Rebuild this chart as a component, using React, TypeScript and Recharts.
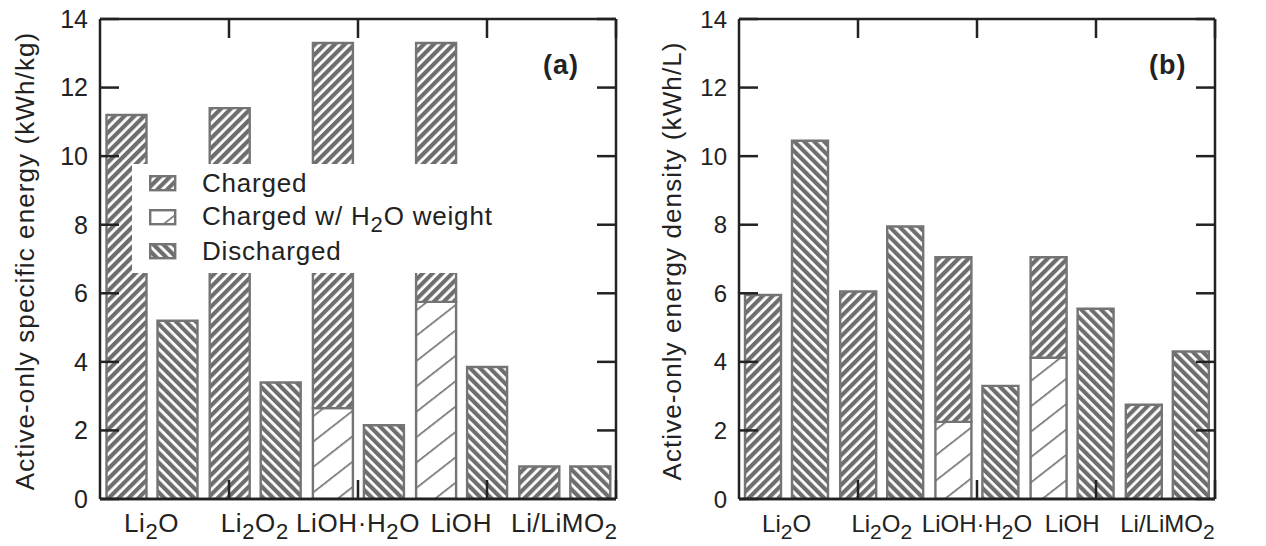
import React from "react";
import { BarChart, Bar, XAxis, YAxis, Legend } from "recharts";

// x categories; "_2" marks a subscript digit
const categories = ["Li_2O", "Li_2O_2", "LiOH·H_2O", "LiOH", "Li/LiMO_2"];

// (a) active-only specific energy, kWh/kg
const chargedA = [11.2, 11.4, 13.3, 13.3, 0.95];
const waterA = [0, 0, 2.65, 5.75, 0];
const dischargedA = [5.2, 3.4, 2.15, 3.85, 0.95];

// (b) active-only energy density, kWh/L
const chargedB = [5.95, 6.05, 7.05, 7.05, 2.75];
const waterB = [0, 0, 2.25, 4.12, 0];
const dischargedB = [10.45, 7.95, 3.3, 5.55, 4.3];

const yTicks = [0, 2, 4, 6, 8, 10, 12, 14];
const boundaryTicks = [1, 2, 3, 4];
const legendItems = [
  { key: "charged", label: "Charged" },
  { key: "water", label: "Charged w/ H_2O weight" },
  { key: "discharged", label: "Discharged" },
];

const FONT = '"Liberation Sans", Arial, Helvetica, sans-serif';
const INK = "#222";
const GRAY = "#6e6e6e";
const EDGE = "#747474";

const buildRows = (charged: number[], water: number[], discharged: number[]) =>
  categories.map((name, i) => ({
    name,
    water: water[i],
    chargedRest: charged[i] - water[i],
    discharged: discharged[i],
  }));

const rowsA = buildRows(chargedA, waterA, dischargedA);
const rowsB = buildRows(chargedB, waterB, dischargedB);

function Patterns({ p }: { p: string }) {
  return (
    <defs>
      <pattern id={`${p}-charged`} patternUnits="userSpaceOnUse" width="7" height="7" patternTransform="rotate(45)">
        <rect width="7" height="7" fill="#fff" />
        <rect width="4.2" height="7" fill={GRAY} />
      </pattern>
      <pattern id={`${p}-discharged`} patternUnits="userSpaceOnUse" width="7" height="7" patternTransform="rotate(-45)">
        <rect width="7" height="7" fill="#fff" />
        <rect width="4.2" height="7" fill={GRAY} />
      </pattern>
      <pattern id={`${p}-water`} patternUnits="userSpaceOnUse" width="20" height="20" patternTransform="rotate(52)">
        <rect width="20" height="20" fill="#fff" />
        <rect width="1.6" height="20" fill={GRAY} />
      </pattern>
    </defs>
  );
}

// svg tspans with subscript digits
function SvgRich({ label, sub, drop }: { label: string; sub: number; drop: number }) {
  const segs = label.split(/_(\d)/);
  let down = false;
  return (
    <>
      {segs.map((t, i) => {
        const isSub = i % 2 === 1;
        if (!t) return null;
        const dy = isSub ? (down ? 0 : drop) : down ? -drop : 0;
        down = isSub;
        return (
          <tspan key={i} dy={dy} fontSize={isSub ? sub : undefined}>
            {t}
          </tspan>
        );
      })}
    </>
  );
}

function HtmlRich({ label }: { label: string }) {
  const segs = label.split(/_(\d)/);
  return (
    <>
      {segs.map((t, i) =>
        i % 2 === 1 ? (
          <span key={i} style={{ fontSize: "0.85em", position: "relative", top: "0.3em" }}>
            {t}
          </span>
        ) : (
          <span key={i}>{t}</span>
        )
      )}
    </>
  );
}

const CategoryTick = (props: any) => {
  const { x, y, payload, size, spacing } = props;
  return (
    <text x={x} y={y} textAnchor="middle" fontSize={size} letterSpacing={spacing} fill={INK} fontFamily={FONT}>
      <SvgRich label={String(payload.value)} sub={Math.round(size * 0.86)} drop={7} />
    </text>
  );
};

const NoTick = () => <g />;

const AxisTitle = ({ viewBox, text, cx }: any) => {
  const vb = viewBox || { y: 20, height: 478 };
  const cy = vb.y + vb.height / 2 + 2;
  return (
    <text
      x={cx}
      y={cy}
      transform={`rotate(-90 ${cx} ${cy})`}
      textAnchor="middle"
      dominantBaseline="central"
      fontSize={26}
      letterSpacing={1.1}
      fill={INK}
      fontFamily={FONT}
    >
      {text}
    </text>
  );
};

function LegendBox() {
  return (
    <div style={{ paddingTop: 2, fontFamily: FONT, color: INK }}>
      {legendItems.map((it) => (
        <div key={it.key} style={{ display: "flex", alignItems: "center", height: 34 }}>
          <svg width={28} height={17} style={{ marginLeft: 17, marginRight: 25 }}>
            <Patterns p={`lg-${it.key}`} />
            <rect x={1.2} y={1.2} width={25} height={14} fill={`url(#lg-${it.key}-${it.key})`} stroke={EDGE} strokeWidth={2.4} />
          </svg>
          <span style={{ fontSize: 26, letterSpacing: 0.8, lineHeight: "26px", whiteSpace: "nowrap" }}>
            <HtmlRich label={it.label} />
          </span>
        </div>
      ))}
    </div>
  );
}

type PanelProps = {
  id: string;
  data: any[];
  width: number;
  marginLeft: number;
  marginRight: number;
  sideGap: number;
  title: string;
  titleX: number;
  xFont: number;
  xSpacing: number;
  yFont: number;
  legend?: boolean;
};

function Panel(props: PanelProps) {
  const { id, data, width, marginLeft, marginRight, sideGap, title, titleX, xFont, xSpacing, yFont, legend } = props;
  const axisStyle = { stroke: INK, strokeWidth: 2.5 };
  return (
    <BarChart
      width={width}
      height={546}
      data={data}
      margin={{ top: 19, right: marginRight, bottom: 46, left: marginLeft }}
      barCategoryGap={sideGap}
      barGap={11}
    >
      <Patterns p={id} />
      <XAxis
        dataKey="name"
        height={1}
        tickLine={false}
        tickSize={0}
        tickMargin={33}
        axisLine={axisStyle}
        tick={<CategoryTick size={xFont} spacing={xSpacing} />}
        interval={0}
      />
      <XAxis
        xAxisId="bot"
        type="number"
        domain={[0, 5]}
        ticks={boundaryTicks}
        interval={0}
        allowDataOverflow
        height={1}
        mirror
        tick={<NoTick />}
        tickSize={19}
        tickLine={axisStyle}
        axisLine={axisStyle}
      />
      <XAxis
        xAxisId="top"
        orientation="top"
        type="number"
        domain={[0, 5]}
        ticks={boundaryTicks}
        interval={0}
        allowDataOverflow
        height={1}
        mirror
        tick={<NoTick />}
        tickSize={19}
        tickLine={axisStyle}
        axisLine={axisStyle}
      />
      <YAxis
        domain={[0, 14]}
        ticks={yTicks}
        interval={0}
        allowDataOverflow
        width={60}
        tickSize={-19}
        tickMargin={31}
        tickLine={axisStyle}
        axisLine={axisStyle}
        tick={{ fontSize: yFont, fill: INK, fontFamily: FONT }}
        label={{ content: (p: any) => <AxisTitle viewBox={p.viewBox} text={title} cx={titleX} /> }}
      />
      <YAxis
        yAxisId="right"
        orientation="right"
        domain={[0, 14]}
        ticks={yTicks}
        interval={0}
        allowDataOverflow
        width={1}
        mirror
        tick={<NoTick />}
        tickSize={19}
        tickLine={axisStyle}
        axisLine={axisStyle}
      />
      <Bar dataKey="water" stackId="c" fill={`url(#${id}-water)`} stroke={EDGE} strokeWidth={2.4} isAnimationActive={false} />
      <Bar dataKey="chargedRest" stackId="c" fill={`url(#${id}-charged)`} stroke={EDGE} strokeWidth={2.4} isAnimationActive={false} />
      <Bar dataKey="discharged" fill={`url(#${id}-discharged)`} stroke={EDGE} strokeWidth={2.4} isAnimationActive={false} />
      {legend && (
        <Legend
          layout="vertical"
          align="center"
          verticalAlign="middle"
          content={() => <LegendBox />}
          wrapperStyle={{ left: 132, top: 164, width: 365, height: 109, backgroundColor: "#fff" }}
        />
      )}
    </BarChart>
  );
}

const tagStyle: React.CSSProperties = {
  position: "absolute",
  top: 52,
  fontSize: 27,
  fontWeight: "bold",
  lineHeight: 1,
  letterSpacing: 1,
  fontFamily: FONT,
  color: INK,
};

export default function App() {
  return (
    <div style={{ position: "absolute", left: 0, top: 0, width: 1266, height: 546, background: "#fff", overflow: "hidden" }}>
      <div style={{ position: "absolute", left: 0, top: 0 }}>
        <Panel
          id="pa"
          data={rowsA}
          width={640}
          marginLeft={40}
          marginRight={24}
          sideGap={6.5}
          title="Active-only specific energy (kWh/kg)"
          titleX={25}
          xFont={26}
          xSpacing={0.6}
          yFont={25}
          legend
        />
      </div>
      <div style={{ position: "absolute", left: 640, top: 0 }}>
        <Panel
          id="pb"
          data={rowsB}
          width={626}
          marginLeft={39}
          marginRight={51}
          sideGap={6}
          title="Active-only energy density (kWh/L)"
          titleX={32}
          xFont={24}
          xSpacing={0}
          yFont={24}
        />
      </div>
      <div style={{ ...tagStyle, left: 543 }}>(a)</div>
      <div style={{ ...tagStyle, left: 1149 }}>(b)</div>
    </div>
  );
}
